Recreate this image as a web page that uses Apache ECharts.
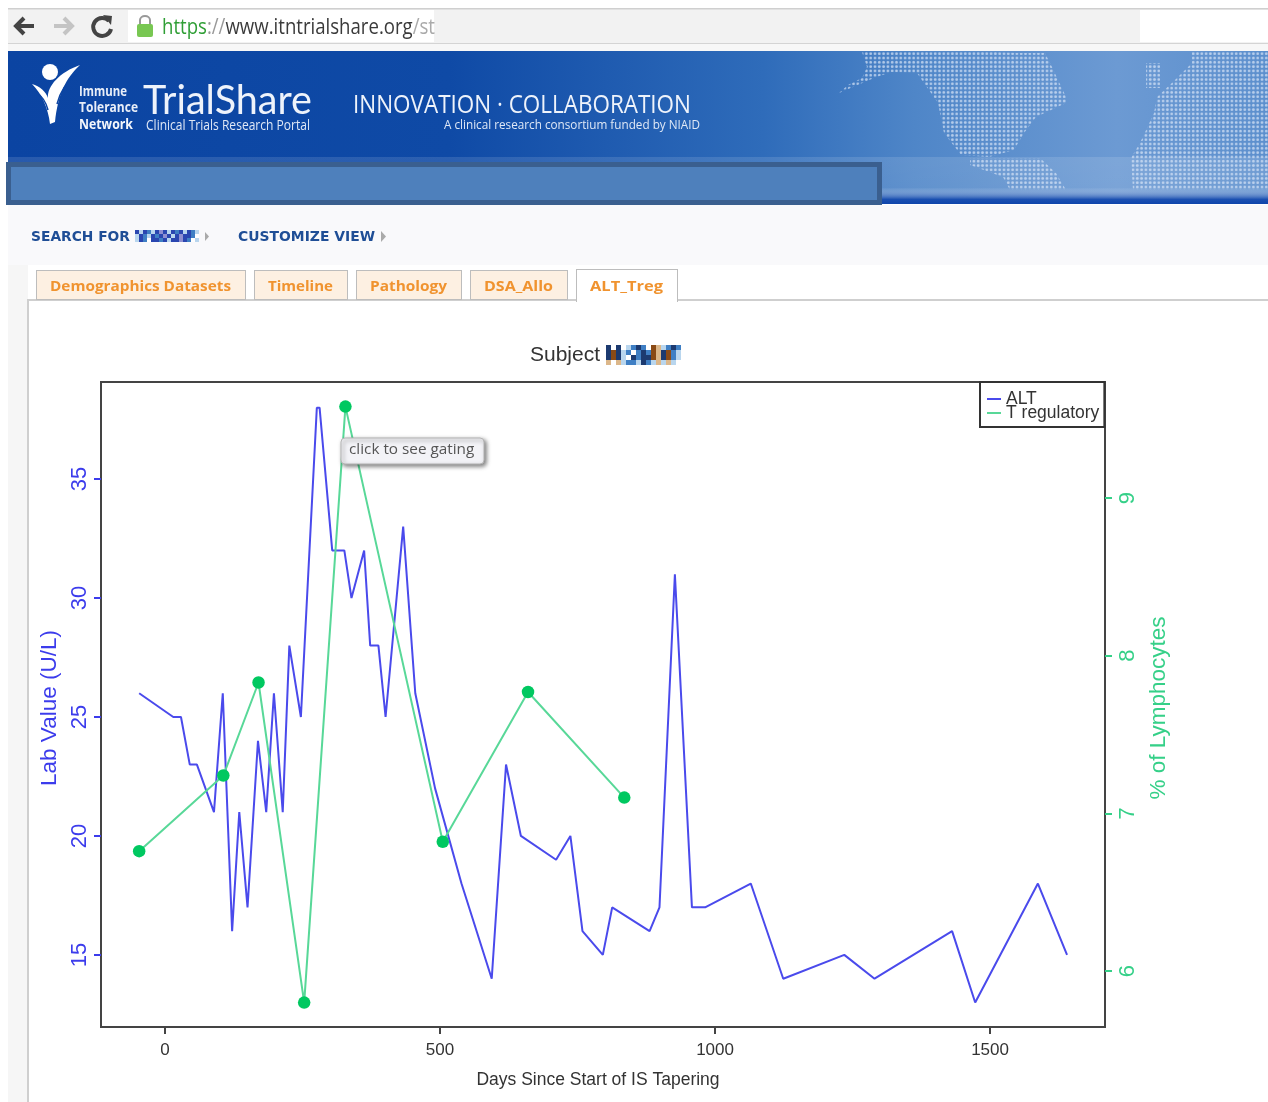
<!DOCTYPE html>
<html>
<head>
<meta charset="utf-8">
<title>TrialShare ALT_Treg</title>
<script src="https://cdn.jsdelivr.net/npm/echarts@6/dist/echarts.min.js"></script>
<style>
html, body { margin: 0; padding: 0; background: #fff; overflow: hidden; }
#page { position: relative; width: 1268px; height: 1102px; filter: blur(0.45px); }
#chrome { position: absolute; left: 0; top: 0; }
#chart { position: absolute; left: 0; top: 0; width: 1268px; height: 1102px; }
#chrome text { font-family: "Open Sans", sans-serif; }
</style>
</head>
<body>
<div id="page">
<svg id="chrome" width="1268" height="1102" viewBox="0 0 1268 1102">
    <defs>
        <linearGradient id="headBg" x1="0" y1="0" x2="1" y2="0">
            <stop offset="0" stop-color="#0b44a2"/>
            <stop offset="0.35" stop-color="#0f4aa6"/>
            <stop offset="0.6" stop-color="#2f6cba"/>
            <stop offset="0.72" stop-color="#4f86c8"/>
            <stop offset="0.88" stop-color="#6c9ad3"/>
            <stop offset="1" stop-color="#5c8fcd"/>
        </linearGradient>
        <linearGradient id="stripBg" x1="0" y1="0" x2="0" y2="1">
            <stop offset="0" stop-color="#ffffff" stop-opacity="0.12"/>
            <stop offset="0.65" stop-color="#ffffff" stop-opacity="0.1"/>
            <stop offset="0.9" stop-color="#1449ae" stop-opacity="0.9"/>
            <stop offset="1" stop-color="#0f45ab"/>
        </linearGradient>
        <pattern id="dots" width="4.3" height="4.3" patternUnits="userSpaceOnUse">
            <circle cx="2.1" cy="2.1" r="1.35" fill="#dce8f8" fill-opacity="0.7"/>
        </pattern>
    </defs>

    <!-- browser bar -->
    <rect x="8" y="8" width="1260" height="36" fill="#f2f2f2"/>
    <rect x="8" y="8" width="1260" height="1.5" fill="#cfcfcf"/>
    <rect x="128" y="10" width="306" height="32" fill="#ffffff"/>
    <rect x="1140" y="10" width="128" height="32" fill="#ffffff"/>
    <rect x="8" y="43" width="1260" height="1.5" fill="#d4d4d4"/>
    <rect x="8" y="44" width="1260" height="7" fill="#f7f7f7"/>
    <path d="M34 26 H17 M24 18 L16 26 L24 34" fill="none" stroke="#444" stroke-width="4"/>
    <path d="M54 26 H71 M64 18 L72 26 L64 34" fill="none" stroke="#c4c4c4" stroke-width="4"/>
    <path d="M109 21 A9 9 0 1 0 111 29" fill="none" stroke="#444" stroke-width="4"/>
    <path d="M103 15 L112 16 L111 25 Z" fill="#444"/>
    <path d="M140 25 V20 A5 4 0 0 1 150 20 V25" fill="none" stroke="#999" stroke-width="2"/>
    <rect x="137" y="24" width="16" height="13" rx="2" fill="#78c752"/>
    <text x="162" y="34" font-size="22" textLength="273" lengthAdjust="spacingAndGlyphs"><tspan fill="#2f9e35">https</tspan><tspan fill="#999">://</tspan><tspan fill="#3a3a3a">www.itntrialshare.org</tspan><tspan fill="#aaa">/st</tspan></text>

    <!-- banner -->
    <rect x="8" y="51" width="1260" height="153" fill="url(#headBg)"/>
    <rect x="8" y="157" width="1260" height="47" fill="url(#stripBg)"/>
    <path fill="url(#dots)" d="M862 52 L996 52 L1017 53 L1045 53 L1052 67 L1066 97 L1066 103 L1036 117 L1024 133 L1014 150 L989 157 L961 155 L944 133 L938 103 L917 73 L891 72 L874 78 L839 93 L848 85 L862 78 L867 67 Z"/>
    <path fill="url(#dots)" d="M970 158 L1040 158 L1056 173 L1066 190 L1010 190 L1003 177 L970 165 Z"/>
    <path fill="url(#dots)" d="M1192 52 L1268 52 L1268 190 L1133 190 L1131 158 L1140 143 L1154 113 L1157 97 L1175 80 L1192 63 Z"/>
    <path fill="url(#dots)" d="M1146 63 L1160 63 L1160 88 L1146 88 Z"/>

    <!-- logo -->
    <circle cx="50" cy="72" r="8" fill="#fff"/>
    <path d="M32 84 C40 86 46 92 48 98 C47 86 60 72 80 65 C66 78 58 94 55 122 L50 124 C48 108 42 94 32 84 Z" fill="#fff"/>
    <path d="M36 92 C42 96 46 102 48 110" fill="none" stroke="#0b44a2" stroke-width="1.5"/>
    <path d="M77 74 C66 82 60 92 57 104" fill="none" stroke="#0b44a2" stroke-width="1.5"/>
    <text x="79" y="96" font-size="14" font-weight="700" fill="#e8eef8" textLength="48" lengthAdjust="spacingAndGlyphs">Immune</text>
    <text x="79" y="112" font-size="14" font-weight="700" fill="#e8eef8" textLength="59" lengthAdjust="spacingAndGlyphs">Tolerance</text>
    <text x="79" y="129" font-size="15" font-weight="700" fill="#f4f7fc" textLength="54" lengthAdjust="spacingAndGlyphs">Network</text>
    <text x="143" y="114" font-size="41" fill="#eef3fb" style="font-family:Lato,sans-serif" textLength="169" lengthAdjust="spacingAndGlyphs">TrialShare</text>
    <text x="146" y="130" font-size="14" fill="#dfe8f6" textLength="164" lengthAdjust="spacingAndGlyphs">Clinical Trials Research Portal</text>
    <text x="353" y="113" font-size="25" fill="#eef3fb" textLength="338" lengthAdjust="spacingAndGlyphs">INNOVATION · COLLABORATION</text>
    <text x="444" y="129" font-size="13" fill="#dfe8f6" textLength="256" lengthAdjust="spacingAndGlyphs">A clinical research consortium funded by NIAID</text>

    <!-- mask over the nav strip -->
    <rect x="8.5" y="164.5" width="871" height="38" fill="#4e80bc" stroke="#3a5f8f" stroke-width="5"/>

    <!-- page background and links -->
    <rect x="8" y="205" width="1260" height="60" fill="#f9f9fb"/>
    <rect x="8" y="265" width="20" height="837" fill="#f6f6f6"/>
    <g id="searchMosaic"></g>
    <text x="31" y="241" font-size="13.5" font-weight="700" fill="#1f4e96" style="font-family:'DejaVu Sans',sans-serif" textLength="99" lengthAdjust="spacingAndGlyphs">SEARCH FOR</text>
    <path d="M205 232 L209 236.5 L205 241 Z" fill="#aaa"/>
    <text x="238" y="241" font-size="13.5" font-weight="700" fill="#1f4e96" style="font-family:'DejaVu Sans',sans-serif" textLength="137" lengthAdjust="spacingAndGlyphs">CUSTOMIZE VIEW</text>
    <path d="M381 231 L386 236.5 L381 242 Z" fill="#aaa"/>

    <!-- tabs -->
    <rect x="28" y="300" width="1270" height="830" fill="#fff" stroke="#cfcfcf" stroke-width="2"/>
    <rect x="36.5" y="270.5" width="209" height="29" fill="#fdf0e2" stroke="#bdbdbd"/>
    <rect x="254.5" y="270.5" width="93" height="29" fill="#fdf0e2" stroke="#bdbdbd"/>
    <rect x="356.5" y="270.5" width="105" height="29" fill="#fdf0e2" stroke="#bdbdbd"/>
    <rect x="470.5" y="270.5" width="97" height="29" fill="#fdf0e2" stroke="#bdbdbd"/>
    <rect x="576.5" y="269.5" width="101" height="32" fill="#fff" stroke="#bdbdbd"/>
    <rect x="577" y="299" width="100" height="4" fill="#fff"/>
    <g font-size="15" font-weight="700" fill="#f0932f">
        <text x="50" y="291" textLength="181" lengthAdjust="spacingAndGlyphs">Demographics Datasets</text>
        <text x="268" y="291" textLength="65" lengthAdjust="spacingAndGlyphs">Timeline</text>
        <text x="370" y="291" textLength="77" lengthAdjust="spacingAndGlyphs">Pathology</text>
        <text x="484" y="291" textLength="69" lengthAdjust="spacingAndGlyphs">DSA_Allo</text>
        <text x="590" y="291" textLength="73" lengthAdjust="spacingAndGlyphs">ALT_Treg</text>
    </g>
    <g id="subjectMosaic"></g>
</svg>
<div id="chart"></div>
</div>
<script>
// values
const altDays = [-47, 15, 29, 45, 58, 89, 105, 122, 135, 150, 169, 184, 198, 214, 226, 247, 276, 281, 304, 326, 339, 362, 373, 388, 401, 433, 455, 491, 539, 594, 620, 647, 711, 737, 759, 796, 813, 881, 899, 927, 958, 982, 1065, 1124, 1235, 1290, 1431, 1473, 1587, 1640];
const altValues = [26, 25, 25, 23, 23, 21, 26, 16, 21, 17, 24, 21, 26, 21, 28, 25, 38, 38, 32, 32, 30, 32, 28, 28, 25, 33, 26, 22, 18, 14, 23, 20, 19, 20, 16, 15, 17, 16, 17, 31, 17, 17, 18, 14, 15, 14, 16, 13, 18, 15];
const tregDays = [-47, 106, 170, 253, 328, 505, 660, 835];
const tregValues = [6.76, 7.24, 7.83, 5.8, 9.58, 6.82, 7.77, 7.1];
const xTicks = [0, 500, 1000, 1500];
const leftTicks = [15, 20, 25, 30, 35];
const rightTicks = [6, 7, 8, 9];

// pixelated redaction blocks
const mosaicColors = {d: '#1c3a70', b: '#3f7fc4', w: '#ffffff', o: '#8a4a16', l: '#b9d6ee', t: '#dcb78a', n: '#2a46b0', p: '#8f8fd0'};
function drawMosaic(id, x0, y0, cell, rows) {
    let g = document.getElementById(id);
    rows.forEach(function (row, r) {
        row.split('').forEach(function (c, i) {
            let rect = document.createElementNS('http://www.w3.org/2000/svg', 'rect');
            rect.setAttribute('x', x0 + i * cell);
            rect.setAttribute('y', y0 + r * cell);
            rect.setAttribute('width', cell);
            rect.setAttribute('height', cell);
            rect.setAttribute('fill', mosaicColors[c]);
            g.appendChild(rect);
        });
    });
}
drawMosaic('subjectMosaic', 606, 345, 5, [
    'dwdwlbdbwotlbdb',
    'dodlbwbdbotdobl',
    'dodlwdbddotdobl',
    'twtlbbldbltltlw'
]);
drawMosaic('searchMosaic', 135, 230, 4, [
    'nlnblnpnlnbnlnbl',
    'lnblnbnpnlnpnnbw',
    'lnbwnnbnlnnpnbwl'
]);

const myChart = echarts.init(document.getElementById('chart'), null, {renderer: 'canvas'});

function pairs(xs, ys) {
    return xs.map(function (x, i) { return [x, ys[i]]; });
}

const blue = '#4a4aec';
const lineGreen = '#58d898';
const dotGreen = '#00c860';
const sans = '"Liberation Sans", Arial, sans-serif';

const option = {
    backgroundColor: 'rgba(0,0,0,0)',
    animation: false,
    title: {
        text: 'Subject',
        left: 530,
        top: 345,
        padding: 0,
        textStyle: {color: '#333', fontSize: 21, fontWeight: 'normal', fontFamily: sans}
    },
    legend: {
        left: 980,
        top: 382,
        orient: 'vertical',
        padding: [8, 5, 5, 7],
        itemGap: -4,
        itemWidth: 14,
        itemHeight: 2,
        borderColor: '#333',
        borderWidth: 2,
        backgroundColor: '#fff',
        selectedMode: false,
        textStyle: {color: '#333', fontSize: 17.5, fontFamily: sans, lineHeight: 15, padding: 0},
        data: [
            {name: 'ALT', icon: 'rect', itemStyle: {color: blue}},
            {name: 'T regulatory', icon: 'rect', itemStyle: {color: lineGreen}}
        ]
    },
    grid: {
        left: 101,
        top: 382,
        width: 1004,
        height: 645,
        show: true,
        borderColor: '#444',
        borderWidth: 2,
        backgroundColor: '#fff'
    },
    xAxis: {
        type: 'value',
        min: -116.4,
        max: 1709,
        name: 'Days Since Start of IS Tapering',
        nameLocation: 'middle',
        nameGap: 44,
        nameTextStyle: {color: '#333', fontSize: 17.5, fontFamily: sans, padding: [0, 10, 0, 0]},
        splitLine: {show: false},
        axisLine: {show: false, onZero: false},
        axisTick: {show: true, length: 7, customValues: xTicks, lineStyle: {color: '#444', width: 2}},
        axisLabel: {customValues: xTicks, margin: 15, color: '#333', fontSize: 17, fontFamily: sans, formatter: function (v) { return String(v); }}
    },
    yAxis: [
        {
            type: 'value',
            min: 11.97,
            max: 39.08,
            name: 'Lab Value (U/L)',
            nameLocation: 'middle',
            nameGap: 34,
            nameRotate: 90,
            nameTextStyle: {color: '#3c3cec', fontSize: 22.5, fontFamily: sans, padding: [0, 7, 0, 0]},
            splitLine: {show: false},
            axisLine: {show: false, onZero: false},
            axisTick: {show: true, length: 7, customValues: leftTicks, lineStyle: {color: '#3c3cec', width: 2}},
            axisLabel: {customValues: leftTicks, rotate: 90, margin: 10, color: '#3c3cec', fontSize: 22, fontFamily: sans}
        },
        {
            type: 'value',
            position: 'right',
            min: 5.645,
            max: 9.736,
            name: '% of Lymphocytes',
            nameLocation: 'middle',
            nameGap: 38,
            nameRotate: 90,
            nameTextStyle: {color: '#35d088', fontSize: 22.5, fontFamily: sans, padding: [0, 7, 0, 0]},
            splitLine: {show: false},
            axisLine: {show: false, onZero: false},
            axisTick: {show: true, length: 7, customValues: rightTicks, lineStyle: {color: '#35d088', width: 2}},
            axisLabel: {customValues: rightTicks, rotate: 90, margin: 12, color: '#35d088', fontSize: 22, fontFamily: sans}
        }
    ],
    series: [
        {
            name: 'ALT',
            type: 'line',
            yAxisIndex: 0,
            showSymbol: false,
            symbol: 'none',
            lineStyle: {color: blue, width: 2},
            data: pairs(altDays, altValues)
        },
        {
            name: 'T regulatory',
            type: 'line',
            yAxisIndex: 1,
            symbol: 'circle',
            symbolSize: 12.5,
            itemStyle: {color: dotGreen},
            lineStyle: {color: lineGreen, width: 2},
            data: pairs(tregDays, tregValues)
        }
    ],
    graphic: [
        {
            type: 'rect',
            z: 100,
            shape: {x: 341, y: 438, width: 143, height: 26, r: 4},
            style: {fill: '#f3f3f7', stroke: '#b5b5b5', lineWidth: 1, shadowBlur: 4, shadowColor: 'rgba(0,0,0,0.5)', shadowOffsetX: 2, shadowOffsetY: 2}
        },
        {
            type: 'text',
            z: 101,
            style: {x: 349, y: 442, text: 'click to see gating', fill: '#555', font: '15.3px "Open Sans", sans-serif'}
        }
    ]
};

myChart.setOption(option);
</script>
</body>
</html>
